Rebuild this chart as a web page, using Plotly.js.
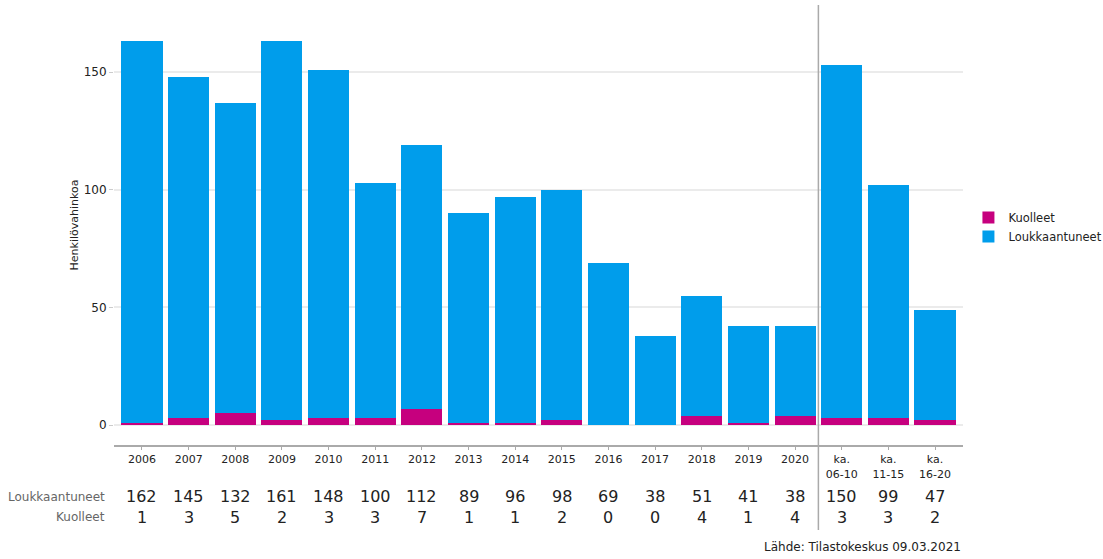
<!DOCTYPE html>
<html><head><meta charset="utf-8">
<script src="https://cdn.plot.ly/plotly-3.0.1.min.js"></script>
<style>html,body{margin:0;padding:0;background:#fff}#chart{width:1103px;height:559px}</style>
</head><body><div id="chart"></div>
<script>
const categories = ["2006","2007","2008","2009","2010","2011","2012","2013","2014","2015","2016","2017","2018","2019","2020","ka.<br>06-10","ka.<br>11-15","ka.<br>16-20"];
const kuolleet = [1,3,5,2,3,3,7,1,1,2,0,0,4,1,4,3,3,2];
const loukkaantuneet = [162,145,132,161,148,100,112,89,96,98,69,38,51,41,38,150,99,47];
const rowLabels = ["Loukkaantuneet","Kuolleet"];
const sourceText = "Lähde: Tilastokeskus 09.03.2021";
const yTitle = "Henkilövahinkoa";

const xs = categories.map((c,i)=>i);
const traces = [
  {type:'bar', name:'Kuolleet', x:xs, y:kuolleet, marker:{color:'#c6007e'}, hoverinfo:'y+name'},
  {type:'bar', name:'Loukkaantuneet', x:xs, y:loukkaantuneet, marker:{color:'#009deb'}, hoverinfo:'y+name'}
];

const annotations = [];
const rowY = [-0.118, -0.164];
[loukkaantuneet, kuolleet].forEach((arr,r)=>{
  arr.forEach((v,i)=>{
    annotations.push({x:i, xref:'x', y:rowY[r], yref:'paper', text:String(v), showarrow:false,
      font:{family:'DejaVu Sans', size:16, color:'#222'}, xanchor:'center', yanchor:'middle'});
  });
  annotations.push({x:-0.008, xref:'paper', y:rowY[r], yref:'paper', text:rowLabels[r], showarrow:false,
    font:{family:'DejaVu Sans', size:12, color:'#666'}, xanchor:'right', yanchor:'middle'});
});
annotations.push({x:1, xref:'paper', y:-0.232, yref:'paper', text:sourceText, showarrow:false,
  font:{family:'DejaVu Sans', size:12, color:'#222'}, xanchor:'right', yanchor:'middle'});

const layout = {
  width:1103, height:559,
  margin:{l:114, r:140, t:5, b:114},
  barmode:'stack', bargap:0.12,
  paper_bgcolor:'#fff', plot_bgcolor:'#fff',
  font:{family:'DejaVu Sans', size:11, color:'#222'},
  xaxis:{range:[-0.6,17.6], tickmode:'array', tickvals:xs, ticktext:categories,
    showline:true, linecolor:'#aaa', linewidth:2, ticks:'outside', ticklen:3, tickcolor:'#aaa',
    showgrid:false, zeroline:false, tickfont:{size:11, color:'#222'}, fixedrange:true, automargin:false},
  yaxis:{range:[-8.5,178.5], tickvals:[0,50,100,150], ticks:'outside', ticklen:4, tickcolor:'#ccc',
    showgrid:true, gridcolor:'#ebebeb', gridwidth:2, zeroline:false, showline:false, automargin:false,
    tickfont:{size:12, color:'#222'}, title:{text:yTitle, font:{size:11}, standoff:2}},
  legend:{xref:'container', yref:'container', x:0.878, y:0.594, xanchor:'left', yanchor:'middle',
    font:{size:11.5}, traceorder:'normal', bgcolor:'rgba(0,0,0,0)'},
  shapes:[{type:'line', xref:'x', yref:'paper', x0:14.5, x1:14.5, y0:-0.193, y1:1, line:{color:'#aaa', width:1.5}}],
  annotations:annotations
};
Plotly.newPlot('chart', traces, layout, {displayModeBar:false, staticPlot:true});
</script></body></html>
